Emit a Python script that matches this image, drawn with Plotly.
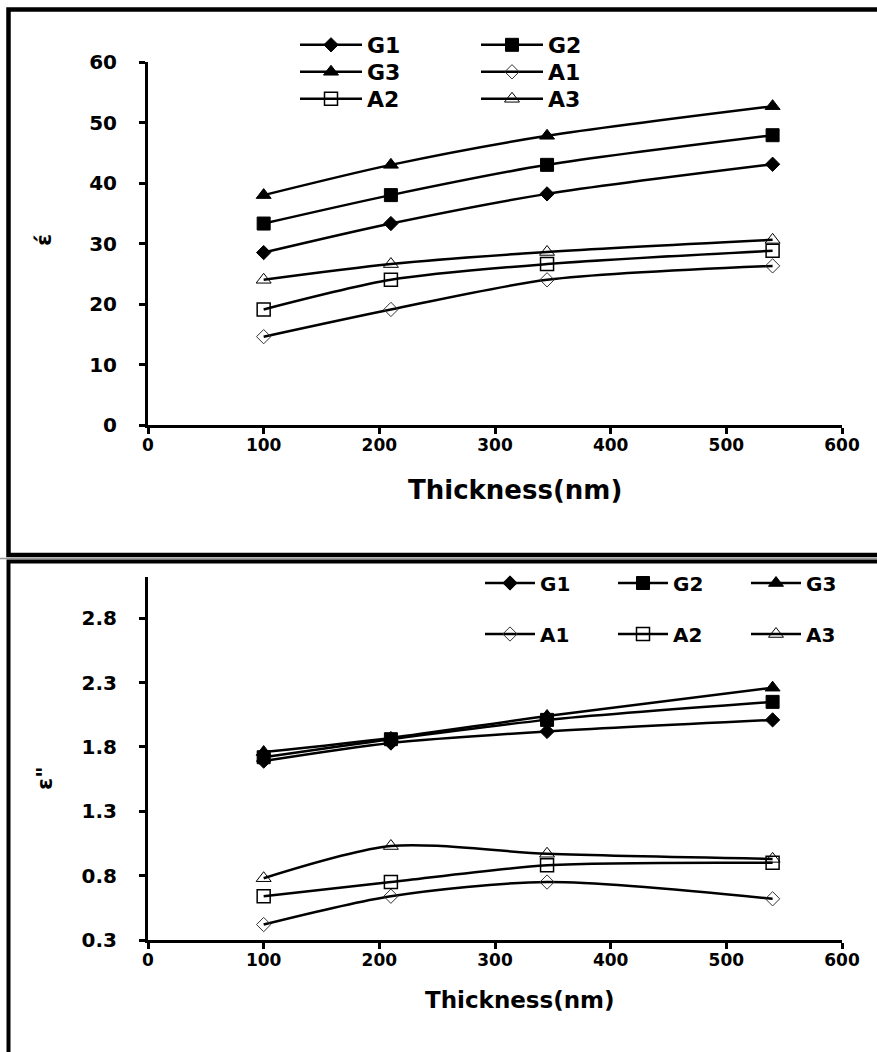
import plotly.graph_objects as go

# Film thickness (nm)
thickness = [100, 210, 345, 540]

# Real part of the dielectric constant
eps1 = {
    "G1": [28.5, 33.3, 38.2, 43.1],
    "G2": [33.3, 38.0, 43.0, 47.9],
    "G3": [38.0, 43.0, 47.8, 52.7],
    "A1": [14.6, 19.1, 24.0, 26.3],
    "A2": [19.1, 24.0, 26.6, 28.8],
    "A3": [24.0, 26.6, 28.6, 30.6],
}

# Imaginary part of the dielectric constant
eps2 = {
    "G1": [1.69, 1.83, 1.92, 2.01],
    "G2": [1.72, 1.86, 2.01, 2.15],
    "G3": [1.76, 1.87, 2.04, 2.26],
    "A1": [0.42, 0.64, 0.75, 0.62],
    "A2": [0.64, 0.75, 0.88, 0.90],
    "A3": [0.78, 1.03, 0.97, 0.93],
}

x_ticks = [0, 100, 200, 300, 400, 500, 600]
y1_ticks = [0, 10, 20, 30, 40, 50, 60]
y2_ticks = [0.3, 0.8, 1.3, 1.8, 2.3, 2.8]
y2_labels = ["0.3", "0.8", "1.3", "1.8", "2.3", "2.8"]

W, H = 877, 1052
FONT = "DejaVu Sans, sans-serif"

markers = {
    "G1": dict(symbol="diamond", size=11, color="black", line=dict(color="black", width=1)),
    "G2": dict(symbol="square", size=13, color="black", line=dict(color="black", width=1)),
    "G3": dict(symbol="triangle-up", size=13, color="black", line=dict(color="black", width=1)),
    "A1": dict(symbol="diamond-open", size=11, color="#333333", line=dict(width=1)),
    "A2": dict(symbol="square-open", size=13, color="black", line=dict(width=1.5)),
    "A3": dict(symbol="triangle-up-open", size=13, color="black", line=dict(width=1)),
}

top_groups = {"G1": "legend", "G2": "legend", "G3": "legend2", "A1": "legend2",
              "A2": "legend3", "A3": "legend3"}
bot_groups = {"G1": "legend4", "G2": "legend4", "G3": "legend4",
              "A1": "legend5", "A2": "legend5", "A3": "legend5"}


def px_x(v):
    return v / W


def px_y(v):
    return 1 - v / H


fig = go.Figure()

for name, vals in eps1.items():
    fig.add_trace(go.Scatter(
        x=thickness, y=vals, name=name, mode="lines+markers",
        line=dict(color="black", width=2.5, shape="spline", smoothing=0.8),
        marker=markers[name], xaxis="x", yaxis="y",
        legend=top_groups[name],
    ))

for name, vals in eps2.items():
    fig.add_trace(go.Scatter(
        x=thickness, y=vals, name=name, mode="lines+markers",
        line=dict(color="black", width=2.5, shape="spline", smoothing=0.8),
        marker=markers[name], xaxis="x2", yaxis="y2",
        legend=bot_groups[name],
    ))

x_dom = [px_x(148), px_x(842)]
line_style = dict(
    showgrid=False, zeroline=False, showline=True, linecolor="black", linewidth=3,
    ticks="outside", ticklen=6, tickwidth=3, tickcolor="black", automargin=False,
)
x_font = dict(family=FONT, size=17, color="black", weight="bold")
y_font = dict(family=FONT, size=20, color="black", weight="bold")

fig.update_layout(
    width=W, height=H,
    margin=dict(l=0, r=0, t=0, b=0, pad=0, autoexpand=False),
    paper_bgcolor="white", plot_bgcolor="white",
    showlegend=True,
    xaxis=dict(domain=x_dom, range=[0, 600], tickvals=x_ticks, anchor="y",
               tickfont=x_font, ticklabelstandoff=-3, **line_style),
    yaxis=dict(domain=[px_y(425), px_y(62)], range=[0, 60], tickvals=y1_ticks,
               anchor="x", tickfont=y_font, ticklabelstandoff=18, **line_style),
    xaxis2=dict(domain=x_dom, range=[0, 600], tickvals=x_ticks, anchor="y2",
                tickfont=x_font, ticklabelstandoff=-3, **line_style),
    yaxis2=dict(domain=[px_y(940), px_y(577)], range=[0.3, 3.12], tickvals=y2_ticks,
                ticktext=y2_labels, anchor="x2", tickfont=y_font, ticklabelstandoff=18,
                **line_style),
)

leg_font = dict(family=FONT, size=22, color="black", weight="bold")
top_rows = [("legend", 45), ("legend2", 72), ("legend3", 99)]
for key, yy in top_rows:
    fig.update_layout({key: dict(
        orientation="h", x=px_x(295), y=px_y(yy), xanchor="left", yanchor="middle",
        itemwidth=62, entrywidth=104, font=leg_font, bgcolor="rgba(0,0,0,0)",
        borderwidth=0, itemclick=False,
    )})
bot_font = dict(family=FONT, size=20, color="black", weight="bold")
bot_rows = [("legend4", 583), ("legend5", 634)]
for key, yy in bot_rows:
    fig.update_layout({key: dict(
        orientation="h", x=px_x(480), y=px_y(yy), xanchor="left", yanchor="middle",
        itemwidth=50, entrywidth=68, font=bot_font,
        bgcolor="rgba(0,0,0,0)", borderwidth=0, itemclick=False,
    )})

# Axis titles (explicit anchors so paper positions are text centres)
centred = dict(xref="paper", yref="paper", showarrow=False, xanchor="center", yanchor="middle")
fig.add_annotation(text="Thickness(nm)", x=px_x(515), y=px_y(490),
                   font=dict(family=FONT, size=26, color="black", weight="bold"), **centred)
fig.add_annotation(text="Thickness(nm)", x=px_x(520), y=px_y(1000),
                   font=dict(family=FONT, size=23, color="black", weight="bold"), **centred)
fig.add_annotation(text="έ", x=px_x(44), y=px_y(240), textangle=-90,
                   font=dict(family=FONT, size=22, color="black", weight="bold"), **centred)
fig.add_annotation(text="ε\"", x=px_x(44), y=px_y(778), textangle=-90,
                   font=dict(family=FONT, size=22, color="black", weight="bold"), **centred)

# Panel frames
fig.add_shape(type="rect", xref="paper", yref="paper",
              x0=px_x(8.5), x1=px_x(890), y0=px_y(555), y1=px_y(9.5),
              line=dict(color="black", width=4.5))
fig.add_shape(type="line", xref="paper", yref="paper",
              x0=px_x(0), x1=px_x(890), y0=px_y(558.5), y1=px_y(558.5),
              line=dict(color="#999999", width=1.5))
fig.add_shape(type="rect", xref="paper", yref="paper",
              x0=px_x(8.5), x1=px_x(890), y0=px_y(1070), y1=px_y(561.5),
              line=dict(color="black", width=4))

fig.write_html("out.html")
